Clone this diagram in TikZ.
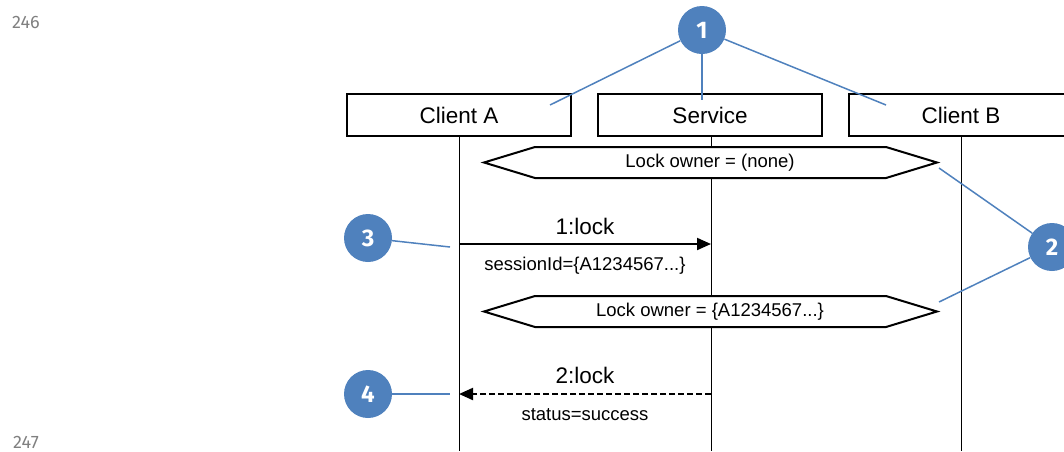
\documentclass[tikz,border=0pt]{standalone}
\usepackage{fontspec}
\setmainfont{Liberation Sans}
\newfontfamily\numfont{Fira Sans}
\usetikzlibrary{arrows.meta,calc}
\definecolor{callblue}{RGB}{79,129,189}
\definecolor{pagegray}{RGB}{128,128,128}

\begin{document}
\begin{tikzpicture}[x=1pt,y=-1pt,
  actor/.style={draw,line width=2pt,fill=white,minimum width=224pt,minimum height=42pt,
    inner sep=0pt,font=\fontsize{22.5}{27}\selectfont},
  lifeline/.style={line width=1pt},
  hexbox/.style={draw,line width=2pt,fill=white,line join=miter},
  statetext/.style={inner sep=0pt,font=\fontsize{18.5}{22}\selectfont},
  msg/.style={inner sep=0pt,font=\fontsize{18.5}{22}\selectfont},
  msgtitle/.style={inner sep=0pt,font=\fontsize{22.5}{27}\selectfont},
  call/.style={line width=1.5pt,draw=callblue},
  badge/.style={circle,fill=callblue,minimum size=48pt,inner sep=0pt,text=white,
    font=\numfont\bfseries\fontsize{24}{28}\selectfont},
  pagenum/.style={text=pagegray,inner sep=0pt,font=\numfont\fontsize{18}{21}\selectfont},
  sync/.style={line width=2pt,-{Triangle[length=14pt,width=12pt]}},
  reply/.style={line width=2pt,dash pattern=on 6pt off 3pt,-{Triangle[length=14pt,width=12pt]}}]

\useasboundingbox (0,0) rectangle (1064,451);
\clip (0,0) rectangle (1064,451);

% page numbers
\node[pagenum] (p246) at (26,22) {246};
\node[pagenum] (p247) at (26,442) {247};

% participants
\node[actor] (ca) at (459,115) {Client A};
\node[actor] (sv) at (710,115) {Service};
\node[actor] (cb) at (961,115) {Client B};

% lifelines
\coordinate (caend) at (459,451);
\coordinate (svend) at (711,451);
\coordinate (cbend) at (961,451);
\draw[lifeline] (ca.south) -- (caend);
\draw[lifeline] ([xshift=1pt]sv.south) -- (svend);
\draw[lifeline] (cb.south) -- (cbend);

% state markers
\draw[hexbox] (484,162.5) -- (535,147) -- (886,147) -- (937,162.5) -- (886,178) -- (535,178) -- cycle;
\node[statetext] (own1) at (710,163) {Lock owner = (none)};
\draw[hexbox] (484,311.5) -- (535,296) -- (886,296) -- (937,311.5) -- (886,327) -- (535,327) -- cycle;
\node[statetext] (own2) at (710,312) {Lock owner = \{A1234567...\}};

% messages
\coordinate (m1s) at (459,244);
\coordinate (m1e) at (711,244);
\draw[sync] (m1s) -- (m1e);
\node[msgtitle] (m1t) at (585,226) {1:lock};
\node[msg] (m1l) at (585,266) {sessionId=\{A1234567...\}};

\coordinate (m2s) at (711,394);
\coordinate (m2e) at (459,394);
\draw[reply] (m2s) -- (m2e);
\node[msgtitle] (m2t) at (585,375) {2:lock};
\node[msg] (m2l) at (585,415) {status=success};

% callouts
\node[badge] (b1) at (702,30) {1};
\node[badge] (b2) at (1052,247) {2};
\node[badge] (b3) at (368,238) {3};
\node[badge] (b4) at (368,394) {4};

\coordinate (c1a) at (550,105);
\coordinate (c1s) at (702,100);
\coordinate (c1b) at (886,105);
\coordinate (c2a) at (939,168);
\coordinate (c2b) at (939,302);
\coordinate (c3) at (450,247);
\coordinate (c4) at (450,394);

\draw[call] (b1) -- (c1a);
\draw[call] (b1) -- (c1s);
\draw[call] (b1) -- (c1b);
\draw[call] (b2) -- (c2a);
\draw[call] (b2) -- (c2b);
\draw[call] (b3) -- (c3);
\draw[call] (b4) -- (c4);
\end{tikzpicture}
\end{document}
